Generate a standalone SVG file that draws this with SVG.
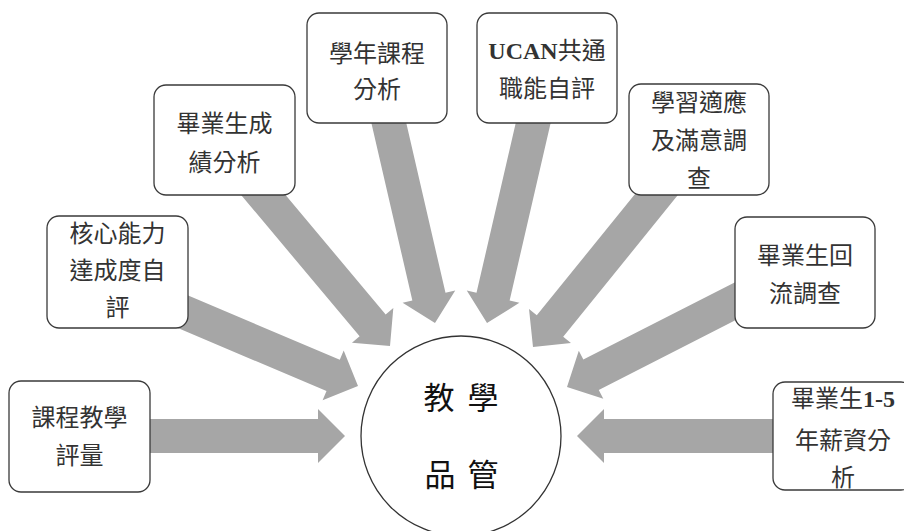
<svg xmlns="http://www.w3.org/2000/svg" width="904" height="531" viewBox="0 0 904 531">
<style>
.arrow{fill:#a6a6a6;stroke:none}
.box{fill:#ffffff;stroke:#3a3a3a;stroke-width:1.3}
.t{font-family:"Noto Sans CJK TC","Noto Sans CJK SC",sans-serif;font-size:24px;fill:#333333;text-anchor:middle}
.s{font-family:"Liberation Serif",serif;font-weight:bold}
.c{font-family:"Noto Sans CJK TC","Noto Sans CJK SC",sans-serif;font-size:31px;fill:#111111;text-anchor:middle}
</style>
<rect width="904" height="531" fill="#ffffff"/>
<g id="connectors">
<polygon class="arrow" transform="translate(345,436) rotate(0)" points="-200,-17 -27,-17 -27,-27 0,0 -27,27 -27,17 -200,17"/>
<polygon class="arrow" transform="translate(358,386) rotate(23)" points="-200,-17 -27,-17 -27,-27 0,0 -27,27 -27,17 -200,17"/>
<polygon class="arrow" transform="translate(390,346) rotate(50)" points="-215,-17 -27,-17 -27,-27 0,0 -27,27 -27,17 -215,17"/>
<polygon class="arrow" transform="translate(435,323) rotate(77)" points="-220,-17 -27,-17 -27,-27 0,0 -27,27 -27,17 -220,17"/>
<polygon class="arrow" transform="translate(487,323) rotate(103)" points="-220,-17 -27,-17 -27,-27 0,0 -27,27 -27,17 -220,17"/>
<polygon class="arrow" transform="translate(533,347) rotate(129)" points="-215,-17 -27,-17 -27,-27 0,0 -27,27 -27,17 -215,17"/>
<polygon class="arrow" transform="translate(567,387) rotate(153)" points="-205,-17 -27,-17 -27,-27 0,0 -27,27 -27,17 -205,17"/>
<polygon class="arrow" transform="translate(577,436) rotate(180)" points="-210,-17 -27,-17 -27,-27 0,0 -27,27 -27,17 -210,17"/>
</g>
<g id="center">
<circle cx="461" cy="436" r="100" fill="#ffffff" stroke="#333333" stroke-width="1.3"/>
<text class="c" y="409"><tspan x="439">教</tspan><tspan x="483">學</tspan></text>
<text class="c" y="486"><tspan x="440">品</tspan><tspan x="483">管</tspan></text>
</g>
<g id="n1">
<rect class="box" x="9" y="381" width="141" height="111" rx="12"/>
<text class="t" x="79.5" y="426">課程教學</text>
<text class="t" x="79.5" y="464">評量</text>
</g>
<g id="n2">
<rect class="box" x="47" y="216" width="141" height="112" rx="12"/>
<text class="t" x="117.5" y="242">核心能力</text>
<text class="t" x="117.5" y="279">達成度自</text>
<text class="t" x="117.5" y="316">評</text>
</g>
<g id="n3">
<rect class="box" x="154" y="85" width="141" height="110" rx="12"/>
<text class="t" x="224.5" y="132">畢業生成</text>
<text class="t" x="224.5" y="171">績分析</text>
</g>
<g id="n4">
<rect class="box" x="307" y="13" width="140" height="110" rx="12"/>
<text class="t" x="377" y="62">學年課程</text>
<text class="t" x="377" y="98">分析</text>
</g>
<g id="n5">
<rect class="box" x="477" y="13" width="140" height="110" rx="12"/>
<text class="t" x="547" y="59"><tspan class="s">UCAN</tspan>共通</text>
<text class="t" x="547" y="97">職能自評</text>
</g>
<g id="n6">
<rect class="box" x="629" y="84" width="140" height="111" rx="12"/>
<text class="t" x="699" y="111">學習適應</text>
<text class="t" x="699" y="149">及滿意調</text>
<text class="t" x="699" y="187">查</text>
</g>
<g id="n7">
<rect class="box" x="735" y="217" width="140" height="111" rx="12"/>
<text class="t" x="805" y="264">畢業生回</text>
<text class="t" x="805" y="302">流調查</text>
</g>
<g id="n8">
<rect class="box" x="773" y="382" width="140" height="108" rx="12"/>
<text class="t" x="843" y="407">畢業生<tspan class="s">1-5</tspan></text>
<text class="t" x="843" y="449">年薪資分</text>
<text class="t" x="843" y="486">析</text>
</g>
</svg>
